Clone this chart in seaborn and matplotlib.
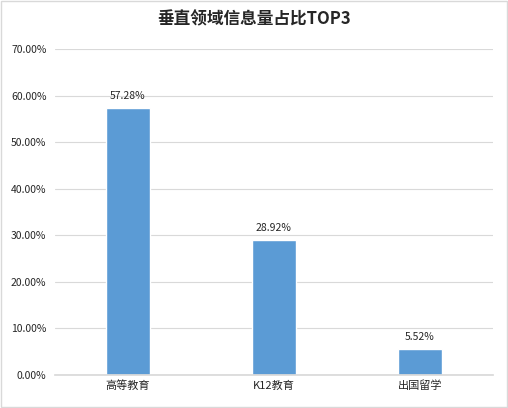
import matplotlib.pyplot as plt
import seaborn as sns
import pandas as pd

categories = ["高等教育", "K12教育", "出国留学"]
shares = [57.28, 28.92, 5.52]
ticks = [0, 10, 20, 30, 40, 50, 60, 70]

sns.set_theme(style="white")
plt.rcParams['font.family'] = ['Noto Sans CJK SC', 'DejaVu Sans']

df = pd.DataFrame({"cat": categories, "val": shares})

fig = plt.figure(figsize=(5.08, 4.08), dpi=100)
ax = fig.add_axes([0.108, 0.081, 0.862, 0.799])
sns.barplot(data=df, x="cat", y="val", color="#5B9BD5", saturation=1, width=0.3, ax=ax)

ax.set_ylim(0, 70)
ax.set_yticks(ticks)
ax.set_yticklabels([f"{t:.2f}%" for t in ticks], fontsize=7.5)
ax.tick_params(axis='x', labelsize=8, length=0, pad=4)
ax.tick_params(axis='y', length=0, pad=6)
ax.yaxis.grid(True, color="#D9D9D9", linewidth=0.8)
ax.set_axisbelow(True)
for s in ["top", "right", "left"]:
    ax.spines[s].set_visible(False)
ax.spines["bottom"].set_color("#D9D9D9")
ax.set_xlabel("")
ax.set_ylabel("")

for i, v in enumerate(shares):
    ax.text(i, v + 1.5, f"{v:.2f}%", ha="center", va="bottom", fontsize=7.5)

fig.suptitle("垂直领域信息量占比TOP3", y=0.975, fontsize=12, fontweight="bold")
fig.patches.append(plt.Rectangle((0.002, 0.002), 0.996, 0.996, transform=fig.transFigure,
                                 fill=False, edgecolor="#D9D9D9", linewidth=1))
fig.savefig("out.png", dpi=100)
